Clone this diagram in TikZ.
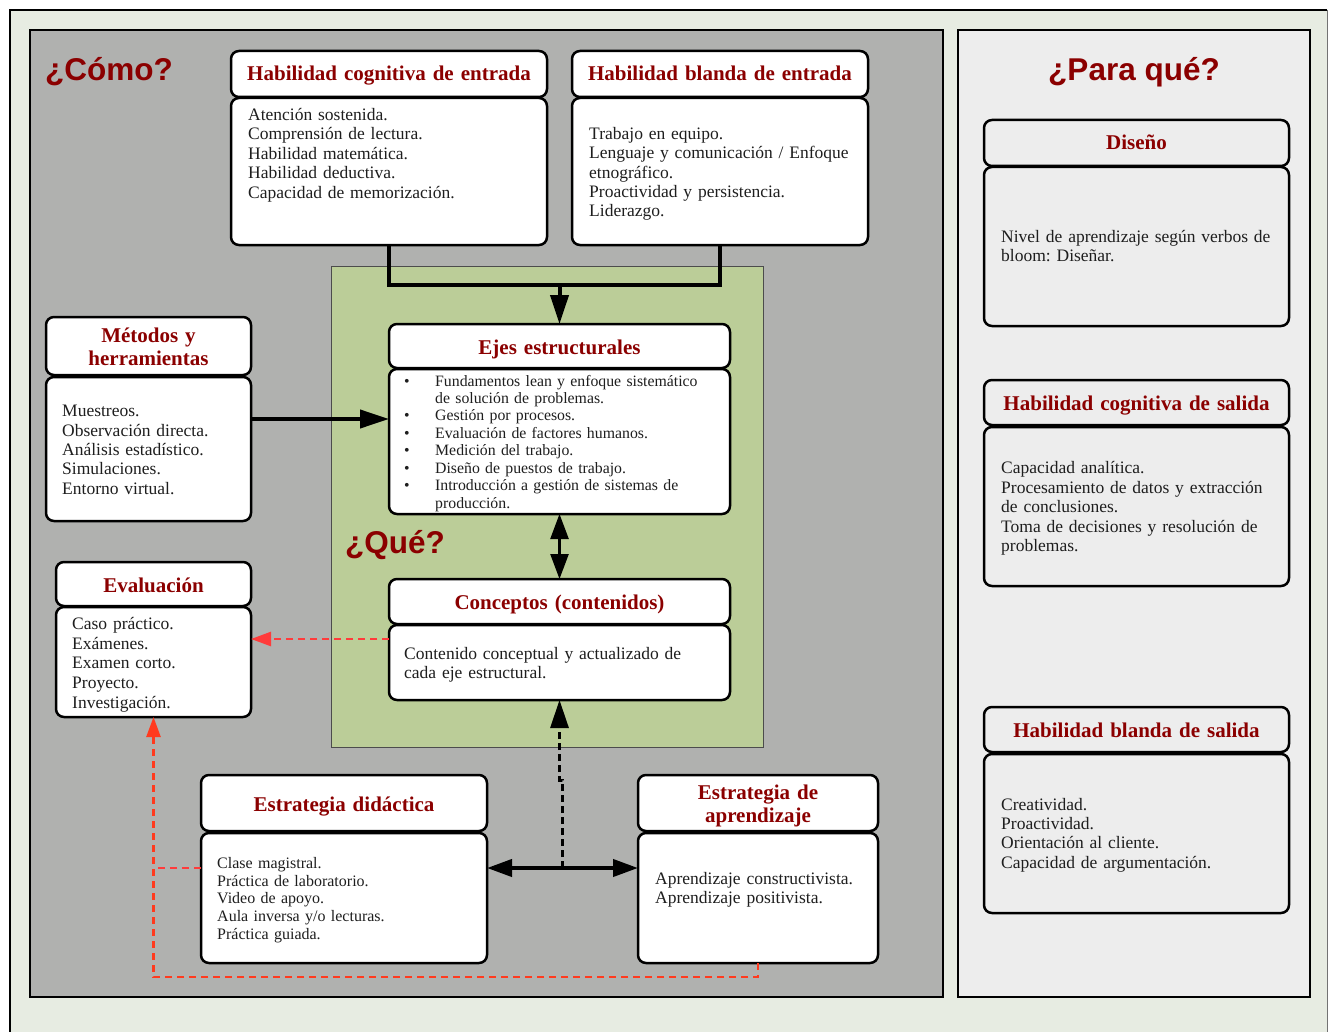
\documentclass[tikz,border=0pt]{standalone}
\usepackage{fontspec}
\setmainfont{Liberation Serif}
\newfontfamily\qfont{Liberation Sans}
\usetikzlibrary{arrows.meta}
\frenchspacing

\definecolor{outerbg}{HTML}{E7ECE2}
\definecolor{leftbg}{HTML}{B0B1AF}
\definecolor{greenbg}{HTML}{BBCD98}
\definecolor{rightbg}{HTML}{EDEDED}
\definecolor{ttlred}{HTML}{8B0000}
\definecolor{dred}{HTML}{FF3B3B}
\definecolor{ored}{HTML}{FF3A1E}
\definecolor{txt}{HTML}{1E1E1E}

\newcommand\mkbox[6]{\node[#6, anchor=north west, minimum width={#4-#2}, minimum height={#5-#3}] (#1) at (#2,#3) {};}
\newcommand\blt{\makebox[31pt][l]{•}}
\newcommand\ind{\hspace*{31pt}}

\tikzset{
  panel/.style={draw=black, line width=2.5pt},
  boxw/.style={draw=black, line width=2.5pt, rounded corners=8pt, fill=white, inner sep=0pt, outer sep=0pt},
  boxg/.style={boxw, fill=rightbg},
  ttl/.style={font=\fontsize{21}{22.5}\selectfont\bfseries, text=ttlred, align=center, text width=320pt, inner sep=0pt, anchor=base},
  bodytxt/.style={font=\fontsize{17.5}{19.4}\selectfont, text=txt, align=left, text width=300pt, inner sep=0pt, anchor=base west},
  ejetxt/.style={font=\fontsize{15.8}{17.47}\selectfont, text=txt, align=left, text width=320pt, inner sep=0pt, anchor=base west},
  qtxt/.style={font=\qfont\bfseries\fontsize{31.5}{36}\selectfont, text=ttlred, inner sep=0pt},
  thickline/.style={line width=4pt, draw=black},
  bigtip/.style={-{Triangle[length=29pt,width=18pt]}},
  reddash/.style={draw=dred, line width=2.5pt, dash pattern=on 7pt off 5pt},
  reddashb/.style={draw=ored, line width=2.5pt, dash pattern=on 7pt off 5pt},
}

\begin{document}
\begin{tikzpicture}[x=1pt,y=-1pt]
\useasboundingbox (0,0) rectangle (1329,1032);
\fill[white] (0,0) rectangle (1329,1032);
% outer frame
\fill[outerbg] (10,10) rectangle (1327,1045);
\draw[line width=2.5pt] (10,1045) -- (10,10) -- (1327,10);
\draw[line width=1pt, black!55] (1327,10) -- (1327,1045);

% panels
\draw[panel, fill=leftbg] (30,30) rectangle (943,997);
\draw[panel, fill=rightbg] (958,30) rectangle (1310,997);
\draw[fill=greenbg, draw=black!70, line width=1pt] (331,266) rectangle (763,747);

% headings
\node[qtxt, anchor=base west] (como) at (45,81) {¿Cómo?};
\node[qtxt, anchor=base] (parque) at (1134,81) {¿Para qué?};
\node[qtxt, anchor=base west] (que) at (345,553) {¿Qué?};

% boxes (left panel)
\mkbox{hce-t}{231}{51}{547}{97}{boxw}
\mkbox{hce-b}{231}{98}{547}{245}{boxw}
\mkbox{hbe-t}{572}{51}{868}{97}{boxw}
\mkbox{hbe-b}{572}{98}{868}{245}{boxw}
\mkbox{met-t}{46}{317}{251}{375}{boxw}
\mkbox{met-b}{46}{377}{251}{521}{boxw}
\mkbox{eje-t}{389}{324}{730}{368}{boxw}
\mkbox{eje-b}{389}{369}{730}{514}{boxw}
\mkbox{eval-t}{56}{562}{251}{606}{boxw}
\mkbox{eval-b}{56}{607}{251}{717}{boxw}
\mkbox{conc-t}{389}{579}{730}{624}{boxw}
\mkbox{conc-b}{389}{625}{730}{700}{boxw}
\mkbox{did-t}{201}{775}{487}{831}{boxw}
\mkbox{did-b}{201}{833}{487}{963}{boxw}
\mkbox{apr-t}{638}{775}{878}{831}{boxw}
\mkbox{apr-b}{638}{833}{878}{963}{boxw}
% boxes (right panel)
\mkbox{dis-t}{984}{120}{1289}{166}{boxg}
\mkbox{dis-b}{984}{167}{1289}{326}{boxg}
\mkbox{hcs-t}{984}{380}{1289}{425}{boxg}
\mkbox{hcs-b}{984}{427}{1289}{586}{boxg}
\mkbox{hbs-t}{984}{707}{1289}{752}{boxg}
\mkbox{hbs-b}{984}{754}{1289}{913}{boxg}

% titles
\node[ttl] (hce-ttl) at (389,81) {Habilidad cognitiva de entrada};
\node[ttl] (hbe-ttl) at (720,81) {Habilidad blanda de entrada};
\node[ttl] (met-ttl) at (148.5,342.5) {Métodos y\\herramientas};
\node[ttl] (eje-ttl) at (559.5,354.3) {Ejes estructurales};
\node[ttl] (eval-ttl) at (153.5,592.7) {Evaluación};
\node[ttl] (conc-ttl) at (559.5,609.3) {Conceptos (contenidos)};
\node[ttl] (did-ttl) at (344,811.7) {Estrategia didáctica};
\node[ttl, font=\fontsize{21}{23.5}\selectfont\bfseries] (apr-ttl) at (758,799) {Estrategia de\\aprendizaje};
\node[ttl] (dis-ttl) at (1136.5,150) {Diseño};
\node[ttl] (hcs-ttl) at (1136.5,410.5) {Habilidad cognitiva de salida};
\node[ttl] (hbs-ttl) at (1136.5,737.3) {Habilidad blanda de salida};

% body texts
\node[bodytxt] (hce-x) at (248,120.5) {Atención sostenida.\\Comprensión de lectura.\\Habilidad matemática.\\Habilidad deductiva.\\Capacidad de memorización.};
\node[bodytxt] (hbe-x) at (589,139.3) {Trabajo en equipo.\\Lenguaje y comunicación / Enfoque\\etnográfico.\\Proactividad y persistencia.\\Liderazgo.};
\node[bodytxt] (met-x) at (62,416.7) {Muestreos.\\Observación directa.\\Análisis estadístico.\\Simulaciones.\\Entorno virtual.};
\node[bodytxt, font=\fontsize{17.5}{19.75}\selectfont] (eval-x) at (72,629.3) {Caso práctico.\\Exámenes.\\Examen corto.\\Proyecto.\\Investigación.};
\node[ejetxt] (eje-x) at (404,386) {\blt Fundamentos lean y enfoque sistemático\\\ind de solución de problemas.\\\blt Gestión por procesos.\\\blt Evaluación de factores humanos.\\\blt Medición del trabajo.\\\blt Diseño de puestos de trabajo.\\\blt Introducción a gestión de sistemas de\\\ind producción.};
\node[bodytxt, font=\fontsize{17.5}{19}\selectfont] (conc-x) at (404,659.5) {Contenido conceptual y actualizado de\\cada eje estructural.};
\node[bodytxt, font=\fontsize{16}{17.7}\selectfont] (did-x) at (217,868.3) {Clase magistral.\\Práctica de laboratorio.\\Video de apoyo.\\Aula inversa y/o lecturas.\\Práctica guiada.};
\node[bodytxt, font=\fontsize{17.5}{19}\selectfont] (apr-x) at (655,884.7) {Aprendizaje constructivista.\\Aprendizaje positivista.};
\node[bodytxt, font=\fontsize{17.5}{19}\selectfont] (dis-x) at (1001,242.7) {Nivel de aprendizaje según verbos de\\bloom: Diseñar.};
\node[bodytxt, font=\fontsize{17.5}{19.5}\selectfont] (hcs-x) at (1001,473.5) {Capacidad analítica.\\Procesamiento de datos y extracción\\de conclusiones.\\Toma de decisiones y resolución de\\problemas.};
\node[bodytxt] (hbs-x) at (1001,810) {Creatividad.\\Proactividad.\\Orientación al cliente.\\Capacidad de argumentación.};

% connectors
\coordinate (jn) at (559.5,285);
\draw[thickline] (hce-b.south) |- (jn) -| (hbe-b.south);
\draw[thickline, bigtip] (jn) -- (eje-t.north);
\draw[thickline, bigtip] ([yshift=-42pt]met-b.north east) -- ([yshift=-42pt]met-b.north east -| eje-b.west);
\draw[line width=2.5pt, {Triangle[length=25pt,width=18pt]}-{Triangle[length=25pt,width=18pt]}] (eje-b.south) -- (conc-t.north);
\draw[thickline, {Triangle[length=25pt,width=17pt]}-{Triangle[length=25pt,width=17pt]}] ([yshift=-35pt]did-b.north east) -- ([yshift=-35pt]did-b.north east -| apr-b.west);
\coordinate (dj1) at (562.5,868);
\coordinate (dj2) at (562.5,780);
\coordinate (dj3) at (559.5,780);
\draw[line width=3pt, dash pattern=on 7pt off 4pt, -{Triangle[length=28pt,width=18pt]}] (dj1) -- (dj2) -- (dj3) -- (conc-b.south);

% red dashed connectors
\draw[reddash, -{Triangle[length=20pt,width=14pt]}] ([yshift=-14pt]conc-b.north west) -- ([yshift=-14pt]conc-b.north west -| eval-b.east);
\coordinate (rbl) at (153.5,977);
\draw[reddashb, -{Triangle[length=20pt,width=14pt]}] (apr-b.south) |- (rbl) -- (eval-b.south);
\draw[reddash] ([yshift=-35pt]did-b.north west) -- ([yshift=-35pt]did-b.north west -| rbl);
\end{tikzpicture}
\end{document}
